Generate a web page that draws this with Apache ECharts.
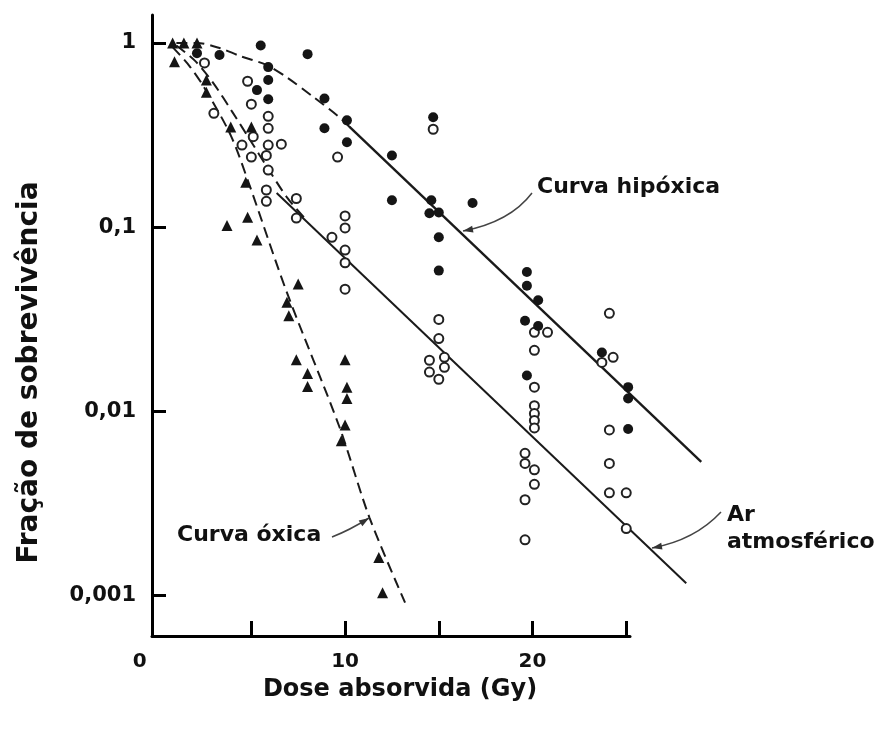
<!DOCTYPE html>
<html>
<head>
<meta charset="utf-8">
<script src="https://cdn.jsdelivr.net/npm/echarts@6/dist/echarts.min.js"></script>
<style>
  html, body { margin: 0; padding: 0; background: #ffffff; }
  #chart { width: 882px; height: 729px; }
</style>
</head>
<body>
<div id="chart"></div>
<script>
// Surviving fraction after irradiation, by oxygen condition (dose in Gy)
const oxicDose = [0.8, 1.4, 2.1, 0.9, 2.6, 2.6, 3.9, 5.0, 4.7, 4.8, 3.7, 5.3, 7.5, 6.9, 7.0, 7.4, 8.0, 8.0, 10.0, 10.1, 10.1, 10.0, 9.8, 11.8, 12.0];
const oxicSurv = [1.0, 1.0, 1.0, 0.79, 0.63, 0.54, 0.35, 0.35, 0.175, 0.113, 0.102, 0.085, 0.049, 0.039, 0.033, 0.019, 0.016, 0.0136, 0.019, 0.0135, 0.0117, 0.0084, 0.0069, 0.0016, 0.00103];

const airDose = [2.5, 3.0, 4.8, 5.0, 5.9, 5.9, 5.9, 6.6, 4.5, 5.1, 5.0, 5.8, 5.9, 5.8, 5.8, 7.4, 7.4, 9.3, 9.6, 10.0, 10.0, 10.0, 10.0, 10.0,
  14.7, 15.0, 15.0, 15.3, 14.5, 14.5, 15.3, 15.0,
  20.1, 20.8, 20.1, 20.1, 20.1, 20.1, 20.1, 20.1, 19.6, 19.6, 20.1, 20.1, 19.6, 19.6,
  24.1, 23.7, 24.3, 24.1, 24.1, 24.1, 25.0, 25.0];
const airSurv = [0.78, 0.415, 0.62, 0.465, 0.40, 0.344, 0.279, 0.282, 0.279, 0.31, 0.24, 0.245, 0.204, 0.159, 0.138, 0.143, 0.112, 0.088, 0.24, 0.115, 0.099, 0.075, 0.064, 0.046,
  0.34, 0.0315, 0.0248, 0.0196, 0.0189, 0.0163, 0.0173, 0.0149,
  0.0268, 0.0268, 0.0214, 0.0135, 0.0107, 0.0097, 0.0089, 0.0081, 0.0059, 0.0052, 0.0048, 0.0040, 0.0033, 0.0020,
  0.034, 0.0184, 0.0196, 0.0079, 0.0052, 0.0036, 0.0036, 0.0023];

const hypoxicDose = [5.5, 8.0, 3.3, 2.1, 5.9, 5.9, 5.3, 5.9, 8.9, 10.1, 8.9, 10.1, 12.5, 14.7, 12.5, 14.6, 14.5, 15.0, 16.8, 15.0, 15.0,
  19.7, 19.7, 20.3, 19.6, 20.3, 19.7, 23.7, 25.1, 25.1, 25.1];
const hypoxicSurv = [0.97, 0.87, 0.86, 0.88, 0.74, 0.63, 0.555, 0.495, 0.50, 0.38, 0.344, 0.289, 0.245, 0.395, 0.14, 0.14, 0.119, 0.12, 0.135, 0.088, 0.058,
  0.057, 0.048, 0.040, 0.031, 0.029, 0.0156, 0.0208, 0.0135, 0.0117, 0.0080];

// Survival curves drawn through the data
const oxicCurveDose = [0.8, 1.7, 2.5, 3.9, 4.9, 6.9, 9.7, 11.3, 13.2];
const oxicCurveSurv = [0.95, 0.75, 0.57, 0.315, 0.169, 0.044, 0.0082, 0.00264, 0.00091];
const airShoulderDose = [1.0, 2.0, 3.0, 4.0, 5.0, 5.8, 6.9, 7.8];
const airShoulderSurv = [0.97, 0.8, 0.6, 0.42, 0.29, 0.215, 0.145, 0.113];
const airLineDose = [6.35, 28.2];
const airLineSurv = [0.153, 0.00116];
const hypoxicShoulderDose = [1.0, 2.1, 3.3, 4.4, 5.8, 6.9, 8.3, 9.7, 10.3];
const hypoxicShoulderSurv = [1.0, 1.0, 0.94, 0.85, 0.76, 0.65, 0.51, 0.395, 0.345];
const hypoxicLineDose = [10.24, 29.0];
const hypoxicLineSurv = [0.35, 0.0053];

// Axis ticks and labels
const yTicks = [0.001, 0.01, 0.1, 1];
const yTickLabels = ['0,001', '0,01', '0,1', '1'];
const xTicks = [5, 10, 15, 20, 25];
const xLabelValues = [0, 10, 20];

const pairs = (xs, ys) => xs.map((x, i) => [x, ys[i]]);

const INK = '#1a1a1a';
const FONT = '"DejaVu Sans", "Liberation Sans", sans-serif';

// Plot frame: dose axis -0.3..25.2 Gy; the fitted lines run on a wider
// twin grid with the same scale so they can continue past 25 Gy.
const X_MIN = -0.3, X_MAX = 25.2, X_MAX_LINES = 29.5;
const Y_MIN = 0.0006, Y_MAX = 1.42;
const PLOT_LEFT = 152, PLOT_TOP = 15, PLOT_W = 478, PLOT_H = 621;
const LINES_W = PLOT_W * (X_MAX_LINES - X_MIN) / (X_MAX - X_MIN);

function yLabel(v) {
  const k = yTicks.findIndex(t => Math.abs(Math.log10(t) - Math.log10(v)) < 1e-6);
  return k >= 0 ? yTickLabels[k] : '';
}

const chart = echarts.init(document.getElementById('chart'), null, { renderer: 'canvas' });

function curve(data, dashed, width) {
  return {
    type: 'line',
    xAxisIndex: 1,
    yAxisIndex: 1,
    data: data,
    symbol: 'none',
    smooth: dashed ? 0.3 : false,
    silent: true,
    z: 1,
    lineStyle: { color: INK, width: width, type: dashed ? [11, 6] : 'solid' }
  };
}

// Arrowhead polygon at `tip`, pointing away from `from`
function arrowHead(tip, from, len, half) {
  const dx = tip[0] - from[0], dy = tip[1] - from[1];
  const L = Math.hypot(dx, dy), ux = dx / L, uy = dy / L;
  const bx = tip[0] - ux * len, by = tip[1] - uy * len;
  return [[tip[0], tip[1]], [bx - uy * half, by + ux * half], [bx + uy * half, by - ux * half]];
}

function pointer(start, ctrl, tip) {
  return [
    {
      type: 'bezierCurve',
      shape: { x1: start[0], y1: start[1], x2: tip[0], y2: tip[1], cpx1: ctrl[0], cpy1: ctrl[1] },
      style: { stroke: '#444', lineWidth: 1.5, fill: null },
      z: 10
    },
    {
      type: 'polygon',
      shape: { points: arrowHead(tip, ctrl, 10, 3.5) },
      style: { fill: '#333' },
      z: 10
    }
  ];
}

function note(text, x, y) {
  return {
    type: 'text',
    x: x, y: y,
    style: { text: text, fontFamily: FONT, fontWeight: 'bold', fontSize: 22, fill: '#111', align: 'left', verticalAlign: 'middle' },
    z: 10
  };
}

chart.setOption({
  backgroundColor: '#ffffff',
  animation: false,
  grid: [
    { left: PLOT_LEFT, top: PLOT_TOP, width: PLOT_W, height: PLOT_H },
    { left: PLOT_LEFT, top: PLOT_TOP, width: LINES_W, height: PLOT_H }
  ],
  xAxis: [
    {
      type: 'value',
      gridIndex: 0,
      min: X_MIN,
      max: X_MAX,
      name: 'Dose absorvida (Gy)',
      nameLocation: 'middle',
      nameGap: 42,
      nameTextStyle: { fontFamily: FONT, fontWeight: 'bold', fontSize: 24, color: '#111', padding: [0, 0, 0, 18] },
      axisLine: { onZero: false, lineStyle: { color: '#000', width: 3 } },
      axisTick: { inside: true, length: 15, customValues: xTicks, lineStyle: { color: '#000', width: 3 } },
      axisLabel: {
        customValues: xLabelValues,
        margin: 16,
        fontFamily: FONT, fontWeight: 'bold', fontSize: 20, color: '#111',
        formatter: v => (v === 0 ? '{z|0}' : String(v)),
        rich: { z: { fontFamily: FONT, fontWeight: 'bold', fontSize: 20, color: '#111', padding: [0, 36, 0, 0] } }
      },
      splitLine: { show: false }
    },
    { type: 'value', gridIndex: 1, min: X_MIN, max: X_MAX_LINES, show: false }
  ],
  yAxis: [
    {
      type: 'log',
      gridIndex: 0,
      logBase: 10,
      min: Y_MIN,
      max: Y_MAX,
      name: 'Fração de sobrevivência',
      nameLocation: 'middle',
      nameGap: 108,
      nameTextStyle: { fontFamily: FONT, fontWeight: 'bold', fontSize: 28, color: '#111', padding: [0, 94, 0, 0] },
      axisLine: { onZero: false, lineStyle: { color: '#000', width: 3 } },
      axisTick: { inside: true, length: 14, customValues: yTicks, lineStyle: { color: '#000', width: 3 } },
      axisLabel: {
        customValues: yTicks,
        margin: 16,
        fontFamily: FONT, fontWeight: 'bold', fontSize: 21, color: '#111',
        formatter: yLabel
      },
      splitLine: { show: false }
    },
    { type: 'log', gridIndex: 1, logBase: 10, min: Y_MIN, max: Y_MAX, show: false }
  ],
  series: [
    curve(pairs(oxicCurveDose, oxicCurveSurv), true, 2),
    curve(pairs(airShoulderDose, airShoulderSurv), true, 2),
    curve(pairs(airLineDose, airLineSurv), false, 2),
    curve(pairs(hypoxicShoulderDose, hypoxicShoulderSurv), true, 2),
    curve(pairs(hypoxicLineDose, hypoxicLineSurv), false, 2.4),
    {
      name: 'Ar atmosférico',
      type: 'scatter',
      data: pairs(airDose, airSurv),
      symbol: 'circle',
      symbolSize: 9,
      z: 3,
      itemStyle: { color: '#ffffff', borderColor: '#222', borderWidth: 2, opacity: 1 }
    },
    {
      name: 'Curva hipóxica',
      type: 'scatter',
      data: pairs(hypoxicDose, hypoxicSurv),
      symbol: 'circle',
      symbolSize: 10,
      z: 4,
      itemStyle: { color: '#151515', opacity: 1 }
    },
    {
      name: 'Curva óxica',
      type: 'scatter',
      data: pairs(oxicDose, oxicSurv),
      symbol: 'triangle',
      symbolSize: 11,
      z: 4,
      itemStyle: { color: '#151515', opacity: 1 }
    }
  ],
  graphic: [
    note('Curva hipóxica', 537, 187),
    note('Ar', 727, 515),
    note('atmosférico', 727, 542),
    note('Curva óxica', 177, 535),
    ...pointer([532, 193], [510, 222], [463, 231]),
    ...pointer([721, 512], [695, 540], [652, 548]),
    ...pointer([332, 537], [350, 530], [369, 518])
  ]
});
</script>
</body>
</html>
